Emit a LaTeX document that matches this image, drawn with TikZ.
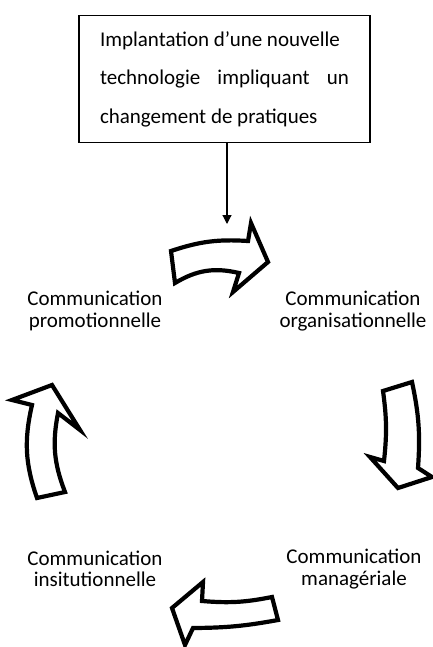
\documentclass[tikz,border=0pt]{standalone}
\usepackage{fontspec}
\setmainfont{Carlito}
\usetikzlibrary{arrows.meta}
\begin{document}
\begin{tikzpicture}[x=1pt, y=-1pt,
  cycletext/.style={align=center, font=\fontsize{21}{21.5}\selectfont},
  bigarrow/.style={draw, fill=white, line width=4.2pt, line join=miter}]
\useasboundingbox (0,0) rectangle (433,647);
\node[draw, line width=1.2pt, inner xsep=21pt, inner ysep=15.5pt, align=left, font=\fontsize{21}{38.5}\selectfont] (intro) at (224.5, 79) {\makebox[240pt][s]{Implantation d’une nouvelle}\\\makebox[249pt][s]{technologie impliquant un}\\changement de pratiques};
\coordinate (entry) at (227, 224);
\draw[line width=1.2pt, -{Triangle[length=9pt, width=9pt]}] (intro.south -| entry) -- (entry);
\node[cycletext] (promo) at (95, 311) {Communication\\promotionnelle};
\node[cycletext] (orga) at (353, 311) {Communication\\organisationnelle};
\node[cycletext] (mana) at (354, 569) {Communication\\managériale};
\node[cycletext] (insti) at (95, 569) {Communication\\insitutionnelle};
% curved block arrows of the cycle
\draw[bigarrow] (171,251) to[bend left=11] (248,241) -- (251,223) -- (268,262) -- (233,292) -- (239,273) to[bend right=22] (175,283) -- cycle;
\draw[bigarrow] (384,461) to[bend right=7] (383,391) -- (412,382) to[bend left=8] (418,468) -- (432,477) -- (398,488) -- (370,457) -- cycle;
\draw[bigarrow] (172,608) -- (203,582) -- (202,601) to[bend right=8] (272,597) -- (278,620) to[bend left=5] (193,628) -- (185,645) -- cycle;
\draw[bigarrow] (52,385) -- (80,430) -- (58,413) to[bend right=16] (65,492) -- (37,498) to[bend left=16] (32,405) -- (12,400) -- cycle;
\end{tikzpicture}
\end{document}
